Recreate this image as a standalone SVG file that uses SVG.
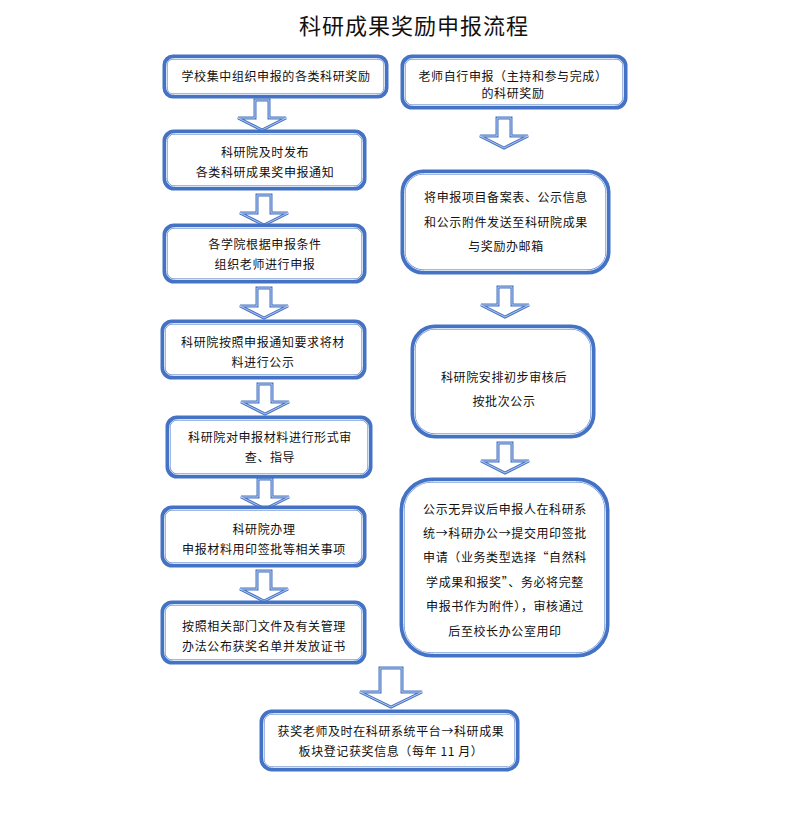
<svg xmlns="http://www.w3.org/2000/svg" width="799" height="839" viewBox="0 0 799 839">
<style>
.bx{fill:#fff;stroke:#4472c4;stroke-width:5}
.bl{fill:none;stroke:#d6e2f6;stroke-width:1}
.ar{fill:#fff;stroke:#4472c4;stroke-width:3;stroke-linejoin:miter}
.al{fill:none;stroke:#d6e2f6;stroke-width:0.8}
text{font-family:"Noto Sans CJK SC","Noto Sans",sans-serif;font-size:12px;fill:#111;text-anchor:middle;letter-spacing:0.6px}
.t{font-size:22px;letter-spacing:1px}
</style>
<defs>
<path id="a1" d="M-7,0 H7 V18 H24 L0,30 L-24,18 H-7 Z"/>
<path id="a2" d="M-11,0 H11 V24 H31 L0,39 L-31,24 H-11 Z"/>
</defs>
<rect width="799" height="839" fill="#fff"/>
<text class="t" x="414" y="34">科研成果奖励申报流程</text>

<g id="connectors">
<g transform="translate(262,100)"><use href="#a1" class="ar"/><use href="#a1" class="al"/></g>
<g transform="translate(264,195)"><use href="#a1" class="ar"/><use href="#a1" class="al"/></g>
<g transform="translate(264,288)"><use href="#a1" class="ar"/><use href="#a1" class="al"/></g>
<g transform="translate(265,384)"><use href="#a1" class="ar"/><use href="#a1" class="al"/></g>
<g transform="translate(265,479)"><use href="#a1" class="ar"/><use href="#a1" class="al"/></g>
<g transform="translate(264,571)"><use href="#a1" class="ar"/><use href="#a1" class="al"/></g>
<g transform="translate(504,118)"><use href="#a1" class="ar"/><use href="#a1" class="al"/></g>
<g transform="translate(505,287)"><use href="#a1" class="ar"/><use href="#a1" class="al"/></g>
<g transform="translate(505,443)"><use href="#a1" class="ar"/><use href="#a1" class="al"/></g>
<g transform="translate(391,668)"><use href="#a2" class="ar"/><use href="#a2" class="al"/></g>
</g>

<g id="n1"><rect class="bx" x="165" y="57" width="221" height="39" rx="8"/><rect class="bl" x="166.5" y="58.5" width="218" height="36" rx="7"/>
<text x="276" y="81">学校集中组织申报的各类科研奖励</text></g>
<g id="n2"><rect class="bx" x="165" y="132" width="199" height="56" rx="9"/><rect class="bl" x="166.5" y="133.5" width="196" height="53" rx="8"/>
<text x="265" y="157">科研院及时发布</text><text x="265" y="177">各类科研成果奖申报通知</text></g>
<g id="n3"><rect class="bx" x="165" y="226" width="199" height="55" rx="9"/><rect class="bl" x="166.5" y="227.5" width="196" height="52" rx="8"/>
<text x="265" y="249">各学院根据申报条件</text><text x="265" y="269">组织老师进行申报</text></g>
<g id="n4"><rect class="bx" x="163" y="322" width="201" height="55" rx="9"/><rect class="bl" x="164.5" y="323.5" width="198" height="52" rx="8"/>
<text x="263" y="347">科研院按照申报通知要求将材</text><text x="263" y="367">料进行公示</text></g>
<g id="n5"><rect class="bx" x="168" y="418" width="202" height="58" rx="9"/><rect class="bl" x="169.5" y="419.5" width="199" height="55" rx="8"/>
<text x="270" y="442">科研院对申报材料进行形式审</text><text x="270" y="462">查、指导</text></g>
<g id="n6"><rect class="bx" x="163" y="508" width="201" height="57" rx="9"/><rect class="bl" x="164.5" y="509.5" width="198" height="54" rx="8"/>
<text x="264" y="534">科研院办理</text><text x="264" y="554">申报材料用印签批等相关事项</text></g>
<g id="n7"><rect class="bx" x="163" y="603" width="201" height="59" rx="9"/><rect class="bl" x="164.5" y="604.5" width="198" height="56" rx="8"/>
<text x="264" y="631">按照相关部门文件及有关管理</text><text x="264" y="651">办法公布获奖名单并发放证书</text></g>
<g id="n8"><rect class="bx" x="262" y="712" width="255" height="57" rx="10"/><rect class="bl" x="263.5" y="713.5" width="252" height="54" rx="9"/>
<text x="391" y="736">获奖老师及时在科研系统平台→科研成果</text><text x="391" y="756">板块登记获奖信息（每年 11 月）</text></g>

<g id="r1"><rect class="bx" x="403" y="57" width="222" height="50" rx="9"/><rect class="bl" x="404.5" y="58.5" width="219" height="47" rx="8"/>
<text x="513" y="81">老师自行申报（主持和参与完成）</text><text x="513" y="98">的科研奖励</text></g>
<g id="r2"><rect class="bx" x="403" y="172" width="205" height="100" rx="20"/><rect class="bl" x="404.5" y="173.5" width="202" height="97" rx="19"/>
<text x="506" y="202">将申报项目备案表、公示信息</text><text x="506" y="227">和公示附件发送至科研院成果</text><text x="506" y="251">与奖励办邮箱</text></g>
<g id="r3"><rect class="bx" x="413" y="327" width="180" height="109" rx="22"/><rect class="bl" x="414.5" y="328.5" width="177" height="106" rx="21"/>
<text x="504" y="382">科研院安排初步审核后</text><text x="504" y="406">按批次公示</text></g>
<g id="r4"><rect class="bx" x="402" y="480" width="205" height="175" rx="30"/><rect class="bl" x="403.5" y="481.5" width="202" height="172" rx="29"/>
<text x="505" y="514">公示无异议后申报人在科研系</text>
<text x="505" y="538">统→科研办公→提交用印签批</text>
<text x="505" y="562">申请（业务类型选择“自然科</text>
<text x="505" y="587">学成果和报奖”、务必将完整</text>
<text x="505" y="611">申报书作为附件），审核通过</text>
<text x="505" y="636">后至校长办公室用印</text></g>
</svg>
